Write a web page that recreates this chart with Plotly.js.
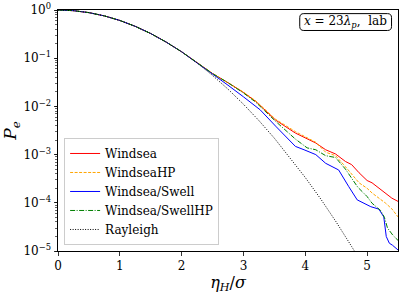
<!DOCTYPE html>
<html>
<head>
<meta charset="utf-8">
<script src="https://cdn.plot.ly/plotly-3.0.1.min.js"></script>
<style>html,body{margin:0;padding:0;background:#fff;}#plot{width:407px;height:298px;}</style>
</head>
<body>
<div id="plot"></div>
<script>
// ---- data ----
const windX = [0,0.25,0.5,0.75,1.0,1.25,1.5,1.75,2.0,2.25,2.5,2.75,3.0,3.2,3.52,3.84,4.17,4.33,4.49,4.65,4.75,4.87,5.0,5.08,5.2,5.3,5.4,5.5];
const windP = [1,0.969,0.882,0.755,0.607,0.458,0.325,0.216,0.136,0.082,0.048,0.031,0.0195,0.0127,0.0052,0.0028,0.00174,0.00126,0.00103,7.2e-4,6.2e-4,4.2e-4,2.9e-4,2.6e-4,2.0e-4,1.6e-4,1.25e-4,1.07e-4];

const windHPX = [0,0.25,0.5,0.75,1.0,1.25,1.5,1.75,2.0,2.25,2.5,2.75,3.0,3.2,3.52,3.84,4.17,4.33,4.49,4.65,4.87,5.0,5.08,5.3,5.4,5.5];
const windHPP = [1,0.969,0.882,0.755,0.607,0.458,0.325,0.216,0.136,0.082,0.048,0.031,0.0198,0.0130,0.0054,0.0030,0.0018,0.00112,9.5e-4,5.6e-4,2.6e-4,2.0e-4,1.6e-4,9.8e-5,7.5e-5,5.1e-5];

const swellX = [0,0.25,0.5,0.75,1.0,1.25,1.5,1.75,2.0,2.25,2.5,2.75,3.0,3.27,3.52,3.84,3.98,4.17,4.33,4.54,4.70,4.84,5.06,5.19,5.27,5.31,5.36,5.41,5.5];
const swellP = [1,0.969,0.882,0.755,0.607,0.458,0.325,0.216,0.136,0.081,0.047,0.0275,0.0158,0.0085,0.0039,0.00148,0.00126,0.00100,6.6e-4,4.8e-4,2.2e-4,1.15e-4,8.3e-5,7.4e-5,5.1e-5,2.0e-5,1.45e-5,1.32e-5,1.05e-5];

const swellHPX = [0,0.25,0.5,0.75,1.0,1.25,1.5,1.75,2.0,2.25,2.5,2.75,3.0,3.2,3.52,3.84,4.03,4.17,4.33,4.49,4.65,4.85,5.0,5.08,5.22,5.28,5.33,5.42,5.5];
const swellHPP = [1,0.969,0.882,0.755,0.607,0.458,0.325,0.216,0.136,0.082,0.048,0.031,0.0190,0.0122,0.0049,0.0021,0.00138,0.00126,9.5e-4,8.7e-4,5.0e-4,2.1e-4,1.35e-4,9.8e-5,6.9e-5,5.0e-5,3.0e-5,2.1e-5,1.66e-5];

const rayX = [0,0.25,0.5,0.75,1.0,1.25,1.5,1.75,2.0,2.25,2.5,2.75,3.0,3.25,3.5,3.75,4.0,4.25,4.5,4.75,5.0];
const rayP = [1,0.969,0.882,0.755,0.607,0.458,0.325,0.216,0.135,0.0796,0.0439,0.0228,0.0111,0.00508,0.00219,8.8e-4,3.35e-4,1.2e-4,4.0e-5,1.24e-5,3.7e-6];

const seriesNames = ["Windsea","WindseaHP","Windsea/Swell","Windsea/SwellHP","Rayleigh"];
const yTickVals = [1e-5,1e-4,1e-3,1e-2,1e-1,1];
const yTickText = ["10<sup>−5</sup>","10<sup>−4</sup>","10<sup>−3</sup>","10<sup>−2</sup>","10<sup>−1</sup>","10<sup>0</sup>"];
const xTickVals = [0,1,2,3,4,5];

const FONT = "'DejaVu Serif', 'Liberation Serif', serif";

const traces = [
  {x: windX, y: windP, name: seriesNames[0], line: {color: "#ff0000", width: 1}},
  {x: windHPX, y: windHPP, name: seriesNames[1], line: {color: "#ffa500", width: 1, dash: "3px,1.5px"}},
  {x: swellX, y: swellP, name: seriesNames[2], line: {color: "#0000ff", width: 1}},
  {x: swellHPX, y: swellHPP, name: seriesNames[3], line: {color: "#008000", width: 1, dash: "5px,1.5px,1px,1.5px"}},
  {x: rayX, y: rayP, name: seriesNames[4], line: {color: "#000000", width: 1, dash: "1px,1.5px"}}
].map(t => Object.assign({type: "scatter", mode: "lines"}, t));

// rounded box for the annotation (paper coords)
function roundRect(x0, y0, x1, y1, rx, ry) {
  return `M${x0+rx},${y0} L${x1-rx},${y0} Q${x1},${y0} ${x1},${y0+ry} L${x1},${y1-ry} Q${x1},${y1} ${x1-rx},${y1} L${x0+rx},${y1} Q${x0},${y1} ${x0},${y1-ry} L${x0},${y0+ry} Q${x0},${y0} ${x0+rx},${y0} Z`;
}

const layout = {
  width: 407, height: 298,
  margin: {l: 58, r: 9, t: 10, b: 47, pad: 0},
  paper_bgcolor: "#ffffff", plot_bgcolor: "#ffffff",
  font: {family: FONT, size: 12, color: "#000"},
  showlegend: true,
  xaxis: {
    range: [0, 5.5], tickvals: xTickVals, ticks: "outside", ticklen: 3.5, tickwidth: 0.8, tickcolor: "#000",
    showline: true, linecolor: "#000", linewidth: 1, mirror: true, showgrid: false, zeroline: false,
    tickfont: {family: FONT, size: 12, color: "#000"},
    title: {text: "<i>η</i><sub><i>H</i></sub>/<i>σ</i>", font: {family: FONT, size: 16, color: "#000"}, standoff: 4}
  },
  yaxis: {
    type: "log", range: [-5, 0], tickvals: yTickVals, ticktext: yTickText, ticks: "outside", ticklen: 3.5, tickwidth: 0.8, tickcolor: "#000",
    showline: true, linecolor: "#000", linewidth: 1, mirror: true, showgrid: false, zeroline: false,
    tickfont: {family: FONT, size: 12, color: "#000"},
    minor: {ticks: "outside", ticklen: 2, tickwidth: 0.6, tickcolor: "#000", dtick: "D1", showgrid: false},
    title: {text: "<i>P</i><sub><i>e</i></sub>", font: {family: FONT, size: 17, color: "#000"}, standoff: 6}
  },
  legend: {
    x: 0.018, y: 0.025, xanchor: "left", yanchor: "bottom",
    bgcolor: "rgba(255,255,255,0.8)", bordercolor: "#cccccc", borderwidth: 1,
    font: {family: FONT, size: 12, color: "#000"}, itemwidth: 30, tracegroupgap: 0
  },
  annotations: [{
    xref: "paper", yref: "paper", x: 0.846, y: 0.95, xanchor: "center", yanchor: "middle",
    text: "<i>x</i> = 23<i>λ</i><sub><i>p</i></sub>,  lab", showarrow: false,
    font: {family: FONT, size: 12, color: "#000"}
  }],
  shapes: [{
    type: "path", xref: "paper", yref: "paper",
    path: roundRect(0.711, 0.915, 0.981, 0.985, 0.012, 0.017),
    line: {color: "#000", width: 1}, fillcolor: "rgba(255,255,255,0)", layer: "above"
  }]
};

Plotly.newPlot("plot", traces, layout, {displayModeBar: false, staticPlot: true});
</script>
</body>
</html>
